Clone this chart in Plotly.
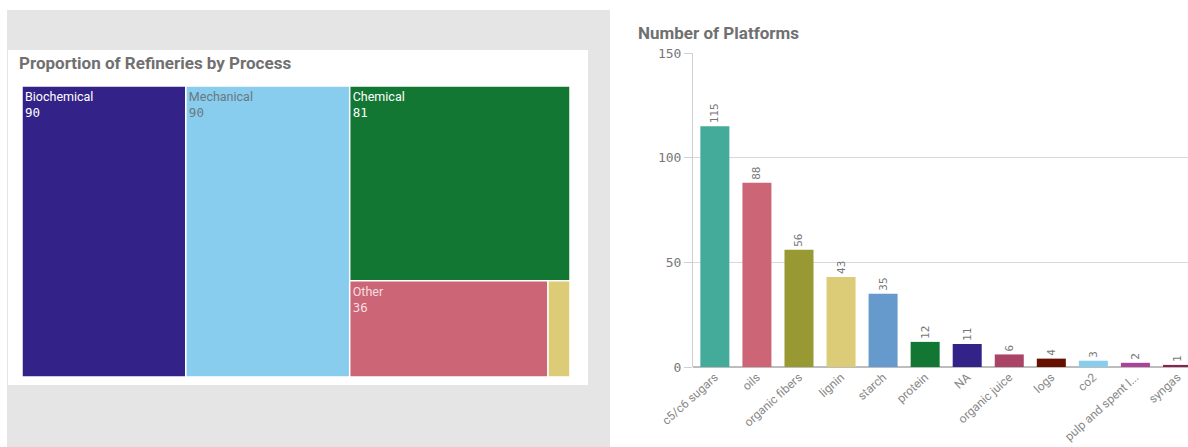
import plotly.graph_objects as go

# Treemap adatok
process_labels = ["Biochemical", "Mechanical", "Chemical", "Other", "Thermochemical"]
process_values = [90, 90, 81, 36, 4]
process_colors = ["#332288", "#88CCEE", "#117733", "#CC6677", "#DDCC77"]
process_text_colors = ["white", "#6a7880", "white", "#f2dde1", "white"]

# Oszlopdiagram adatok
platforms = ["c5/c6 sugars", "oils", "organic fibers", "lignin", "starch", "protein", "NA",
             "organic juice", "logs", "co2", "pulp and spent l...", "syngas"]
platform_counts = [115, 88, 56, 43, 35, 12, 11, 6, 4, 3, 2, 1]
platform_colors = ["#44AA99", "#CC6677", "#999933", "#DDCC77", "#6699CC", "#117733", "#332288",
                   "#AA4466", "#661100", "#88CCEE", "#AA4499", "#882255"]
y_ticks = [0, 50, 100, 150]

W, H = 1188, 447
MONO = "DejaVu Sans Mono"
SANS = "Roboto"
GRAY = "#707070"


def px(x):
    return x / W


def py(y):
    return 1 - y / H


templates = ["%{label}<br><span style='font-family:" + MONO + "'>%{value}</span>"] * 4 + [""]

fig = go.Figure()

fig.add_trace(go.Treemap(
    labels=process_labels,
    parents=[""] * len(process_labels),
    values=process_values,
    marker=dict(colors=process_colors, line=dict(color="white", width=1.5),
                pad=dict(t=0, l=0, r=0, b=0)),
    texttemplate=templates,
    textposition="top left",
    textfont=dict(family=SANS, size=12.5, color=process_text_colors),
    tiling=dict(pad=0),
    pathbar=dict(visible=False),
    domain=dict(x=[px(22), px(570)], y=[py(377), py(86)]),
    sort=False,
    hoverinfo="label+value",
))

fig.add_trace(go.Bar(
    x=platforms,
    y=platform_counts,
    marker=dict(color=platform_colors, line=dict(width=0)),
    text=platform_counts,
    textposition="outside",
    textangle=-90,
    textfont=dict(family=MONO, size=11, color="#777777"),
    cliponaxis=False,
    xaxis="x",
    yaxis="y",
))

fig.update_layout(
    width=W,
    height=H,
    margin=dict(l=0, r=0, t=0, b=0, pad=0),
    paper_bgcolor="white",
    plot_bgcolor="rgba(0,0,0,0)",
    showlegend=False,
    bargap=0.31,
    xaxis=dict(
        domain=[px(693), 1],
        range=[-0.52, 11.25],
        tickangle=-42,
        tickfont=dict(family=SANS, size=12, color="#888888"),
        showline=False,
        ticks="",
        showgrid=False,
        zeroline=False,
        fixedrange=True,
        automargin=False,
    ),
    yaxis=dict(
        domain=[py(367), py(53)],
        range=[0, 150],
        tickvals=y_ticks,
        tickfont=dict(family=MONO, size=13, color="#777777"),
        showgrid=True,
        gridcolor="#d9d9d9",
        gridwidth=1,
        showline=True,
        linecolor="#d0d0d0",
        ticks="outside",
        ticklen=8,
        tickcolor="#d0d0d0",
        zeroline=True,
        zerolinecolor="#bdbdbd",
        fixedrange=True,
        automargin=False,
    ),
    shapes=[
        dict(type="rect", xref="paper", yref="paper", x0=px(7), x1=px(610), y0=0, y1=py(10),
             fillcolor="#e5e5e5", line=dict(width=0), layer="below"),
        dict(type="rect", xref="paper", yref="paper", x0=px(8), x1=px(588), y0=py(385), y1=py(50),
             fillcolor="white", line=dict(width=0), layer="below"),
    ],
    annotations=[
        dict(text="<b>Proportion of Refineries by Process</b>", xref="paper", yref="paper",
             x=px(17), y=py(63), xanchor="left", yanchor="middle", showarrow=False,
             font=dict(family=SANS, size=17, color=GRAY)),
        dict(text="<b>Number of Platforms</b>", xref="paper", yref="paper",
             x=px(636), y=py(33), xanchor="left", yanchor="middle", showarrow=False,
             font=dict(family=SANS, size=17, color=GRAY)),
    ],
)

# az oldal alapértelmezett margójának eltávolítása
fig.write_html("out.html", config={"displayModeBar": False},
               post_script="document.body.style.margin='0';document.body.style.overflow='hidden';")
